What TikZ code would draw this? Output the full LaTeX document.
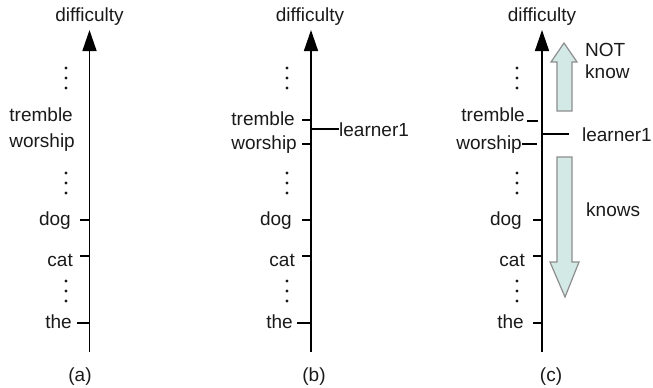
\documentclass[tikz,border=0pt]{standalone}
\usepackage{fontspec}
\setmainfont{Liberation Sans}
\usetikzlibrary{arrows.meta}
\definecolor{txt}{HTML}{1A1A1A}
\definecolor{arrfill}{HTML}{D2E9E6}
\definecolor{arrdraw}{HTML}{8E8E8E}
\tikzset{
  lbl/.style={font=\fontsize{19}{22}\selectfont, inner sep=0pt, text=txt},
  axisline/.style={line width=1.5pt, -{Triangle[length=21pt,width=14pt]}},
  tickline/.style={line width=1.2pt},
  blockarrow/.style={fill=arrfill, draw=arrdraw, line width=1.2pt, line join=miter},
}
\newcommand{\dotcol}[2]{%
  \fill[txt] (#1,#2) circle (1.6pt);
  \fill[txt] (#1,#2+10) circle (1.6pt);
  \fill[txt] (#1,#2+20) circle (1.6pt);}
\begin{document}
\begin{tikzpicture}[x=1pt,y=-1pt]
\useasboundingbox (0,0) rectangle (653,388);

% ---------------- panel (a) ----------------
\coordinate (aB) at (89.5,352);
\coordinate (aT) at (89.5,30);
\draw[axisline] (aB) -- (aT);
\node[lbl, anchor=base] (aDiff) at (89.5,21) {difficulty};
\dotcol{66}{68}
\node[lbl, anchor=base east] (aTremble) at (73,121) {tremble};
\node[lbl, anchor=base east] (aWorship) at (75,147) {worship};
\dotcol{66}{173}
\node[lbl, anchor=base east] (aDog) at (71,225) {dog};
\node[lbl, anchor=base east] (aCat) at (73,266) {cat};
\dotcol{66}{281}
\node[lbl, anchor=base east] (aThe) at (72,328) {the};
\coordinate (aDogL) at (80,220);   \coordinate (aDogR) at (89.5,220);
\coordinate (aCatL) at (80,256);   \coordinate (aCatR) at (89.5,256);
\coordinate (aTheL) at (77,323);   \coordinate (aTheR) at (89.5,323);
\draw[tickline] (aDogL) -- (aDogR);
\draw[tickline] (aCatL) -- (aCatR);
\draw[tickline] (aTheL) -- (aTheR);
\node[lbl, anchor=base] (aCap) at (80,381) {(a)};

% ---------------- panel (b) ----------------
\coordinate (bB) at (311,352);
\coordinate (bT) at (311,30);
\draw[axisline] (bB) -- (bT);
\node[lbl, anchor=base] (bDiff) at (310,21) {difficulty};
\dotcol{287}{68}
\node[lbl, anchor=base east] (bTremble) at (295,125) {tremble};
\node[lbl, anchor=base east] (bWorship) at (297,149) {worship};
\dotcol{287}{173}
\node[lbl, anchor=base east] (bDog) at (292,225) {dog};
\node[lbl, anchor=base east] (bCat) at (295,266) {cat};
\dotcol{287}{281}
\node[lbl, anchor=base east] (bThe) at (293,328) {the};
\coordinate (bTrL) at (302,120);  \coordinate (bTrR) at (311,120);
\coordinate (bWoL) at (302,144);  \coordinate (bWoR) at (311,144);
\coordinate (bDogL) at (302,220); \coordinate (bDogR) at (311,220);
\coordinate (bCatL) at (302,256); \coordinate (bCatR) at (311,256);
\coordinate (bTheL) at (297,323); \coordinate (bTheR) at (311,323);
\draw[tickline] (bTrL) -- (bTrR);
\draw[tickline] (bWoL) -- (bWoR);
\draw[tickline] (bDogL) -- (bDogR);
\draw[tickline] (bCatL) -- (bCatR);
\draw[tickline] (bTheL) -- (bTheR);
\coordinate (bLrn) at (311,129);
\node[lbl, anchor=base west] (bLearner) at (339,136) {learner1};
\draw[tickline] (bLrn) -- (bLearner.west |- bLrn);
\node[lbl, anchor=base] (bCap) at (314,381) {(b)};

% ---------------- panel (c) ----------------
\coordinate (cB) at (542,352);
\coordinate (cT) at (542,30);
\draw[axisline] (cB) -- (cT);
\node[lbl, anchor=base] (cDiff) at (542,21) {difficulty};
\dotcol{517}{68}
\node[lbl, anchor=base east] (cTremble) at (525,121) {tremble};
\node[lbl, anchor=base east] (cWorship) at (522,149) {worship};
\dotcol{517}{173}
\node[lbl, anchor=base east] (cDog) at (522,225) {dog};
\node[lbl, anchor=base east] (cCat) at (525,266) {cat};
\dotcol{517}{281}
\node[lbl, anchor=base east] (cThe) at (524,328) {the};
\coordinate (cTrL) at (527,121);  \coordinate (cTrR) at (538,121);
\coordinate (cWoL) at (522,144);  \coordinate (cWoR) at (537,144);
\coordinate (cDogL) at (533,220); \coordinate (cDogR) at (542,220);
\coordinate (cCatL) at (533,256); \coordinate (cCatR) at (542,256);
\coordinate (cTheL) at (533,323); \coordinate (cTheR) at (542,323);
\draw[tickline] (cTrL) -- (cTrR);
\draw[tickline] (cWoL) -- (cWoR);
\draw[tickline] (cDogL) -- (cDogR);
\draw[tickline] (cCatL) -- (cCatR);
\draw[tickline] (cTheL) -- (cTheR);
\coordinate (cLrn) at (542,134);
\coordinate (cLrnE) at (569,134);
\draw[tickline] (cLrn) -- (cLrnE);
\node[lbl, anchor=base east] (cLearner) at (652,141) {learner1};
% block arrows
\draw[blockarrow] (557,111) -- (557,62) -- (551,62) -- (564,43) -- (577,62)
   -- (572,62) -- (572,111) -- cycle;
\draw[blockarrow] (557,157) -- (572,157) -- (572,262) -- (579,262) -- (565,297)
   -- (550,262) -- (557,262) -- cycle;
\node[lbl, anchor=base west] (cNot) at (585,56) {NOT};
\node[lbl, anchor=base west] (cKnow) at (585,78) {know};
\node[lbl, anchor=base west] (cKnows) at (586,216) {knows};
\node[lbl, anchor=base] (cCap) at (551,381) {(c)};
\end{tikzpicture}
\end{document}
